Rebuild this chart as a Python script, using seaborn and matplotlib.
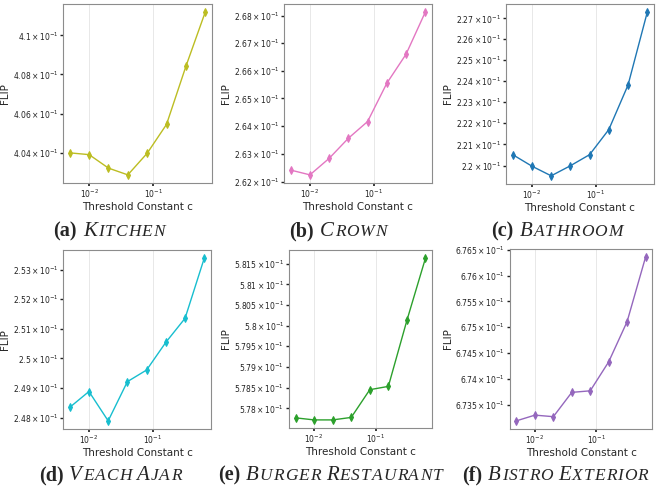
import numpy as np
import pandas as pd
import matplotlib
matplotlib.use("Agg")
import matplotlib.pyplot as plt
import seaborn as sns

# threshold constants (x axis, log)
c_vals = [0.005, 0.01, 0.02, 0.04, 0.08, 0.16, 0.32, 0.64]

kitchen = [0.40402, 0.40393, 0.40325, 0.40291, 0.40400, 0.40546, 0.40841, 0.41119]
crown = [0.26243, 0.26226, 0.26285, 0.26357, 0.26417, 0.26555, 0.26660, 0.26813]
bathroom = [0.22052, 0.21998, 0.21953, 0.22000, 0.22052, 0.22170, 0.22381, 0.22730]
veach_ajar = [0.24836, 0.24889, 0.24791, 0.24922, 0.24961, 0.25054, 0.25135, 0.25339]
burger = [0.57777, 0.57772, 0.57772, 0.57778, 0.57845, 0.57853, 0.58013, 0.58164]
bistro = [0.67319, 0.67330, 0.67327, 0.67374, 0.67377, 0.67433, 0.67511, 0.67636]

scenes = [
    ("a", "Kitchen", kitchen, "#bcbd22"),
    ("b", "Crown", crown, "#e377c2"),
    ("c", "Bathroom", bathroom, "#1f77b4"),
    ("d", "Veach Ajar", veach_ajar, "#17becf"),
    ("e", "Burger Restaurant", burger, "#2ca02c"),
    ("f", "Bistro Exterior", bistro, "#9467bd"),
]

# axes boxes in pixels: left, right, top, bottom
boxes = [(63, 212, 4, 183), (284, 432, 4, 183), (506, 654, 4, 184),
         (63, 211, 250, 429), (289, 432, 250, 428), (510, 652, 249, 429)]
# caption centre x, baseline y (pixels)
cap_pos = [(109, 236), (338, 236), (557, 236), (110, 480), (330, 480), (555, 480)]

sns.set_theme(style="whitegrid", rc={
    "axes.edgecolor": "#8c8c8c",
    "axes.linewidth": 0.8,
    "grid.color": "#e8e8e8",
    "grid.linewidth": 0.7,
    "xtick.major.size": 2,
    "ytick.major.size": 2,
    "ytick.minor.size": 2,
    "xtick.minor.size": 0,
    "xtick.bottom": True,
    "ytick.left": True,
})
plt.rcParams["font.family"] = ["DejaVu Sans"]

W, H = 660, 491
fig = plt.figure(figsize=(6.6, 4.91), dpi=100)


def caption(xc, yb, tag, name, big=15, small=12.5, track=1.0):
    # "(x) Name" with the name in italic small caps, built letter by letter
    renderer = fig.canvas.get_renderer()
    serif = "Liberation Serif"
    parts = [(f"({tag})", dict(fontweight="bold", fontsize=14.5)), 6]
    for i, word in enumerate(name.split()):
        if i:
            parts.append(5)
        parts.append((word[0], dict(fontstyle="italic", fontsize=big)))
        for ch in word[1:].upper():
            parts.append(track)
            parts.append((ch, dict(fontstyle="italic", fontsize=small)))
    texts, widths = [], []
    for p in parts:
        if isinstance(p, (int, float)):
            texts.append(None)
            widths.append(p)
            continue
        t = fig.text(0, 1 - yb / H, p[0], family=serif, va="baseline", ha="left", **p[1])
        texts.append(t)
        widths.append(t.get_window_extent(renderer).width)
    x = xc - sum(widths) / 2
    for t, w in zip(texts, widths):
        if t is not None:
            t.set_x(x / W)
        x += w


for (tag, name, vals, color), (l, r, t, b), (cx, cy) in zip(scenes, boxes, cap_pos):
    ax = fig.add_axes([l / W, 1 - b / H, (r - l) / W, (b - t) / H])
    df = pd.DataFrame({"c": c_vals, "flip": vals})
    sns.lineplot(data=df, x="c", y="flip", ax=ax, color=color, marker="d",
                 markersize=4, markeredgecolor=color, linewidth=1)
    ax.set_xscale("log")
    ax.set_yscale("log")
    ax.grid(True, axis="x", which="major")
    ax.grid(False, axis="y")
    ax.set_xlabel("Threshold Constant c", fontsize=7.5, labelpad=1)
    ax.set_ylabel("FLIP", fontsize=7.5, labelpad=2)
    ax.tick_params(axis="both", which="both", labelsize=5.5, pad=1.5, colors="#222222")
    caption(cx, cy, tag, name)

fig.savefig("out.png", dpi=100)
